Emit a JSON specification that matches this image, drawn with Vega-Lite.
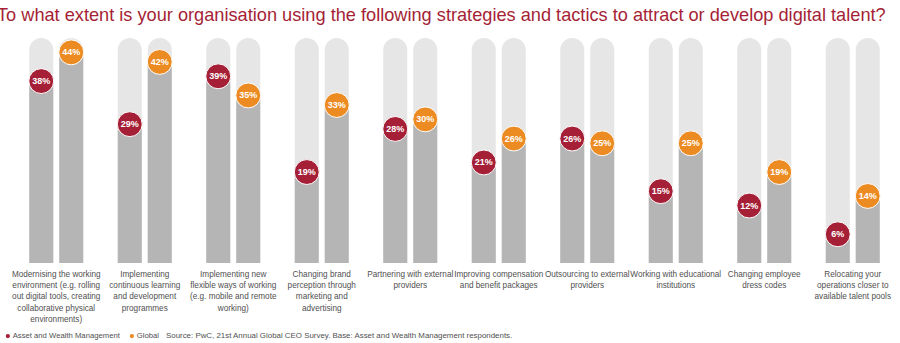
{
  "$schema": "https://vega.github.io/schema/vega-lite/v6.json",
  "width": 885,
  "height": 225,
  "autosize": {"type": "none"},
  "padding": {"left": 12, "top": 38, "right": 3, "bottom": 80},
  "background": "white",
  "title": {
    "text": "To what extent is your organisation using the following strategies and tactics to attract or develop digital talent?",
    "anchor": "start",
    "dx": -7,
    "offset": 13,
    "font": "Liberation Sans",
    "fontSize": 18.2,
    "fontWeight": "normal",
    "color": "#a51f36"
  },
  "config": {
    "view": {"stroke": null},
    "font": "Liberation Sans"
  },
  "data": {
    "values": [
      {"category": "Modernising the working|environment (e.g. rolling|out digital tools, creating|collaborative physical|environments)", "series": "Asset and Wealth Management", "value": 0.38},
      {"category": "Modernising the working|environment (e.g. rolling|out digital tools, creating|collaborative physical|environments)", "series": "Global", "value": 0.44},
      {"category": "Implementing|continuous learning|and development|programmes", "series": "Asset and Wealth Management", "value": 0.29},
      {"category": "Implementing|continuous learning|and development|programmes", "series": "Global", "value": 0.42},
      {"category": "Implementing new|flexible ways of working|(e.g. mobile and remote|working)", "series": "Asset and Wealth Management", "value": 0.39},
      {"category": "Implementing new|flexible ways of working|(e.g. mobile and remote|working)", "series": "Global", "value": 0.35},
      {"category": "Changing brand|perception through|marketing and|advertising", "series": "Asset and Wealth Management", "value": 0.19},
      {"category": "Changing brand|perception through|marketing and|advertising", "series": "Global", "value": 0.33},
      {"category": "Partnering with external|providers", "series": "Asset and Wealth Management", "value": 0.28},
      {"category": "Partnering with external|providers", "series": "Global", "value": 0.30},
      {"category": "Improving compensation|and benefit packages", "series": "Asset and Wealth Management", "value": 0.21},
      {"category": "Improving compensation|and benefit packages", "series": "Global", "value": 0.26},
      {"category": "Outsourcing to external|providers", "series": "Asset and Wealth Management", "value": 0.26},
      {"category": "Outsourcing to external|providers", "series": "Global", "value": 0.25},
      {"category": "Working with educational|institutions", "series": "Asset and Wealth Management", "value": 0.15},
      {"category": "Working with educational|institutions", "series": "Global", "value": 0.25},
      {"category": "Changing employee|dress codes", "series": "Asset and Wealth Management", "value": 0.12},
      {"category": "Changing employee|dress codes", "series": "Global", "value": 0.19},
      {"category": "Relocating your|operations closer to|available talent pools", "series": "Asset and Wealth Management", "value": 0.06},
      {"category": "Relocating your|operations closer to|available talent pools", "series": "Global", "value": 0.14}
    ]
  },
  "encoding": {
    "x": {
      "field": "category",
      "type": "nominal",
      "sort": null,
      "scale": {"paddingInner": 0.39, "paddingOuter": 0.195},
      "axis": {
        "title": null,
        "domain": false,
        "ticks": false,
        "labelAngle": 0,
        "labelExpr": "split(datum.label, '|')",
        "labelFontSize": 8.2,
        "labelColor": "#505050",
        "labelLineHeight": 11.4,
        "labelPadding": 7,
        "labelLimit": 200,
        "labelBaseline": "top"
      }
    },
    "xOffset": {
      "field": "series",
      "type": "nominal",
      "scale": {"paddingInner": 0.2, "paddingOuter": 0}
    }
  },
  "layer": [
    {
      "mark": {"type": "bar", "color": "#e6e6e6", "cornerRadiusTopLeft": 12, "cornerRadiusTopRight": 12},
      "encoding": {
        "y": {"datum": 0.47, "type": "quantitative", "scale": {"domain": [0, 0.47], "nice": false}, "axis": null}
      }
    },
    {
      "mark": {"type": "bar", "color": "#b5b5b5"},
      "encoding": {
        "y": {"field": "value", "type": "quantitative", "axis": null}
      }
    },
    {
      "mark": {"type": "point", "filled": true, "size": 620, "opacity": 1, "stroke": "white", "strokeWidth": 1},
      "encoding": {
        "y": {"field": "value", "type": "quantitative", "axis": null},
        "color": {
          "field": "series",
          "type": "nominal",
          "scale": {"domain": ["Asset and Wealth Management", "Global"], "range": ["#a51f36", "#ec8b22"]},
          "legend": {
            "title": "Source: PwC, 21st Annual Global CEO Survey. Base: Asset and Wealth Management respondents.",
            "titleOrient": "right",
            "titleFontSize": 7.9,
            "titleFontWeight": "normal",
            "titleColor": "#505050",
            "titleLimit": 800,
            "titlePadding": 7,
            "orient": "none",
            "legendX": -8,
            "legendY": 294,
            "direction": "horizontal",
            "symbolType": "circle",
            "symbolSize": 18,
            "symbolStrokeWidth": 0,
            "labelFontSize": 7.7,
            "labelColor": "#505050",
            "labelOffset": 1,
            "columnPadding": 8,
            "labelLimit": 300
          }
        }
      }
    },
    {
      "mark": {"type": "text", "color": "white", "fontWeight": "bold", "fontSize": 9, "baseline": "middle", "align": "center"},
      "encoding": {
        "y": {"field": "value", "type": "quantitative", "axis": null},
        "text": {"field": "value", "type": "quantitative", "format": ".0%"}
      }
    }
  ]
}
